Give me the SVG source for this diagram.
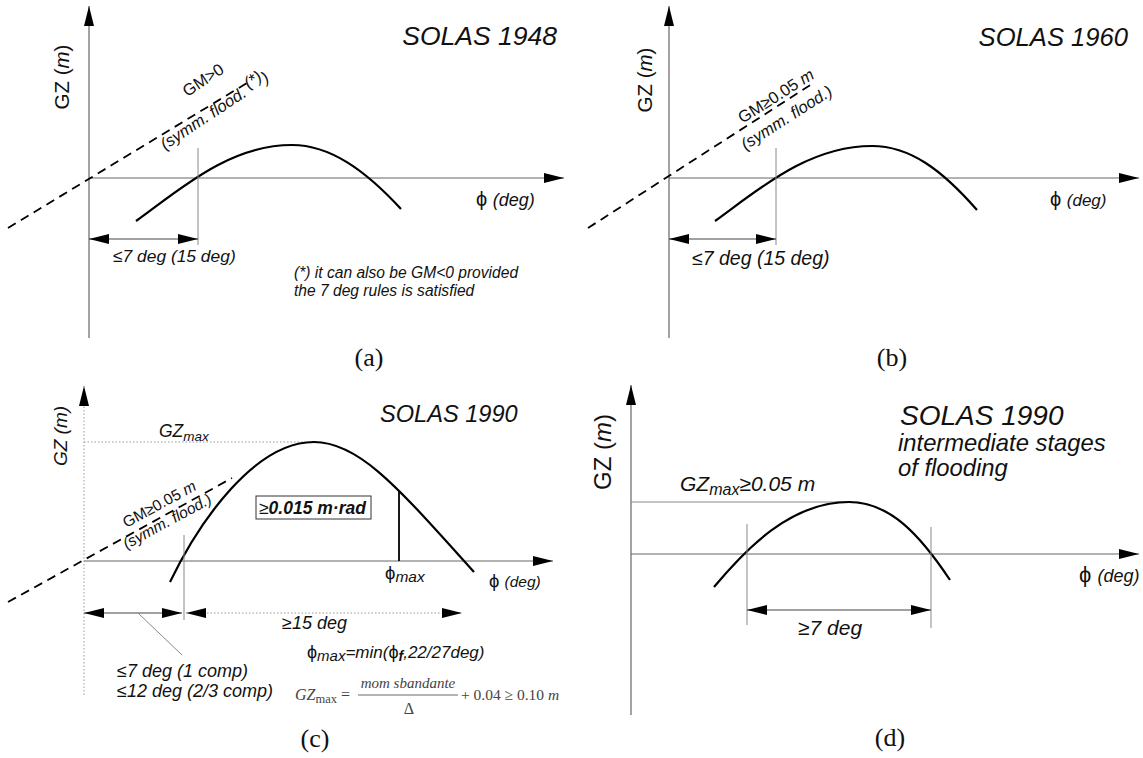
<svg xmlns="http://www.w3.org/2000/svg" width="1143" height="758" viewBox="0 0 1143 758">
<defs>
<marker id="ah" viewBox="0 0 20 10" markerWidth="20" markerHeight="10" refX="20" refY="5" orient="auto-start-reverse" markerUnits="userSpaceOnUse"><path d="M0,0L20,5L0,10z" fill="#000"/></marker>
</defs>
<style>
.ax{stroke:#666;stroke-width:1.2;fill:none;marker-end:url(#ah)}
.cv{stroke:#000;stroke-width:2.2;fill:none}
.th{stroke:#888;stroke-width:1;fill:none}
.ds{stroke:#000;stroke-width:1.8;stroke-dasharray:9 6;fill:none}
.dim{stroke:#444;stroke-width:1;fill:none;marker-start:url(#ah);marker-end:url(#ah)}
.dot{stroke:#999;stroke-width:1;stroke-dasharray:1.5 2;fill:none}
text{font-family:"Liberation Sans",Arial,sans-serif;fill:#111}
.it{font-style:italic}
.cap{font-family:"Liberation Serif","Times New Roman",serif;font-size:26px;text-anchor:middle}
.fm{font-family:"Liberation Serif","Times New Roman",serif;fill:#444}
</style>
<rect width="1143" height="758" fill="#fff"/>

<g id="panel-a">
<line class="ax" x1="89" y1="338" x2="89" y2="6"/>
<line class="ax" x1="89" y1="178" x2="564" y2="178"/>
<text x="557" y="45" text-anchor="end" class="it" font-size="26.5">SOLAS 1948</text>
<text transform="translate(69,77) rotate(-90)" text-anchor="middle" font-size="20.5">GZ (<tspan class="it">m</tspan>)</text>
<text x="476" y="206" font-size="20">ϕ <tspan class="it" font-size="18">(deg)</tspan></text>
<line class="ds" x1="8" y1="228" x2="252" y2="80"/>
<g transform="translate(166,152) rotate(-33.5)">
<text x="48" y="-34" font-size="16.5">GM&gt;0</text>
<text x="0" y="-2" font-size="16.5" class="it">(symm. flood. <tspan dy="-5">(*)</tspan><tspan dy="5">)</tspan></text>
</g>
<path class="cv" d="M136,221 C178,191 228,145 292,145 C330,145 365,170 401,209"/>
<line class="th" x1="198" y1="148" x2="198" y2="245"/>
<line class="dim" x1="89" y1="239" x2="198" y2="239"/>
<text x="113" y="262" class="it" font-size="17.4">≤7 deg (15 deg)</text>
<text x="294" y="278" class="it" font-size="15.6">(*) it can also be GM&lt;0 provided</text>
<text x="294" y="296" class="it" font-size="15.6">the 7 deg rules is satisfied</text>
<text x="369" y="366" class="cap">(a)</text>
</g>

<g id="panel-b">
<line class="ax" x1="669" y1="338" x2="669" y2="6"/>
<line class="ax" x1="669" y1="178" x2="1139" y2="178"/>
<text x="1128" y="46" text-anchor="end" class="it" font-size="25.6">SOLAS 1960</text>
<text transform="translate(652,80) rotate(-90)" text-anchor="middle" font-size="20.5">GZ (<tspan class="it">m</tspan>)</text>
<text x="1050" y="206" font-size="20">ϕ <tspan class="it" font-size="17">(deg)</tspan></text>
<line class="ds" x1="588" y1="228" x2="815" y2="82"/>
<g transform="translate(747,153) rotate(-32.5)">
<text x="12" y="-27" font-size="16.5">GM≥0.05 <tspan class="it">m</tspan></text>
<text x="0" y="-3" font-size="16.5" class="it">(symm. flood.)</text>
</g>
<path class="cv" d="M715,221 C757,191 807,146 872,146 C910,146 942,170 977,210"/>
<line class="th" x1="776" y1="148" x2="776" y2="245"/>
<line class="dim" x1="669" y1="239" x2="776" y2="239"/>
<text x="692" y="265" class="it" font-size="19.5">≤7 deg (15 deg)</text>
<text x="892" y="366" class="cap">(b)</text>
</g>

<g id="panel-c">
<line class="dot" x1="84" y1="695" x2="84" y2="386" marker-end="url(#ah)"/>
<line class="ax" x1="84" y1="561" x2="553" y2="561"/>
<text x="380" y="422" class="it" font-size="23.6">SOLAS 1990</text>
<text transform="translate(67,436) rotate(-90)" text-anchor="middle" font-size="19" class="it">GZ (m)</text>
<text x="159" y="437" class="it" font-size="17.5">GZ<tspan font-size="13.5" dy="4">max</tspan></text>
<line class="dot" x1="84" y1="442" x2="314" y2="442"/>
<path class="cv" d="M170,582 C200,520 255,442 314,442 C360,442 400,490 474,572"/>
<line x1="399" y1="491" x2="399" y2="561" stroke="#000" stroke-width="1.8"/>
<text x="385" y="579" font-size="18.5">ϕ<tspan class="it" font-size="15.5" dy="3">max</tspan></text>
<text x="489" y="587" font-size="18.5">ϕ <tspan class="it" font-size="15.5">(deg)</tspan></text>
<rect x="256" y="496" width="115" height="23" fill="none" stroke="#333" stroke-width="1"/>
<text x="259" y="514" font-size="17.5">≥<tspan class="it" font-weight="bold">0.015 m·rad</tspan></text>
<line class="ds" x1="8" y1="602" x2="232" y2="478"/>
<g transform="translate(128,552) rotate(-28.5)">
<text x="10" y="-22" font-size="15.5">GM≥0.05 <tspan class="it">m</tspan></text>
<text x="0" y="-3" font-size="15.5" class="it">(symm. flood.)</text>
</g>
<line class="th" x1="184" y1="535" x2="184" y2="620"/>
<line class="dim" x1="84" y1="613" x2="182" y2="613"/>
<line class="dot" x1="186" y1="613" x2="462" y2="613" marker-start="url(#ah)" marker-end="url(#ah)"/>
<line class="th" x1="138" y1="613" x2="182" y2="655"/>
<text x="282" y="629" class="it" font-size="18">≥15 deg</text>
<text x="307" y="658" font-size="18">ϕ<tspan class="it" font-size="15" dy="3">max</tspan><tspan class="it" font-size="17" dy="-3">=min(</tspan><tspan font-size="18">ϕ</tspan><tspan class="it" font-weight="bold" font-size="14" dy="3">f</tspan><tspan class="it" font-size="17" dy="-3">,22/27deg)</tspan></text>
<text x="117" y="677" class="it" font-size="18">≤7 deg (1 comp)</text>
<text x="117" y="697" class="it" font-size="18">≤12 deg (2/3 comp)</text>
<text x="295" y="700" class="fm" font-size="16"><tspan font-style="italic">GZ</tspan><tspan font-size="12.5" dy="3">max</tspan><tspan dy="-3"> =</tspan></text>
<line x1="358" y1="695" x2="458" y2="695" stroke="#444" stroke-width="0.8"/>
<text x="408" y="688" class="fm" font-size="15" text-anchor="middle" font-style="italic">mom sbandante</text>
<text x="409" y="714" class="fm" font-size="16" text-anchor="middle">Δ</text>
<text x="461" y="700" class="fm" font-size="15.5">+ 0.04 ≥ 0.10 <tspan font-style="italic">m</tspan></text>
<text x="315" y="747" class="cap">(c)</text>
</g>

<g id="panel-d">
<line class="ax" x1="631" y1="715" x2="631" y2="385"/>
<line class="ax" x1="631" y1="554" x2="1139" y2="554"/>
<text transform="translate(611,452) rotate(-90)" text-anchor="middle" font-size="24">GZ (<tspan class="it">m</tspan>)</text>
<text x="900" y="425" class="it" font-size="28">SOLAS 1990</text>
<text x="898" y="451" class="it" font-size="23.8">intermediate stages</text>
<text x="898" y="476" class="it" font-size="23.8">of flooding</text>
<text x="680" y="491" class="it" font-size="21">GZ<tspan font-size="16" dy="4">max</tspan><tspan dy="-4">≥0.05 m</tspan></text>
<line class="th" x1="631" y1="502" x2="850" y2="502"/>
<path class="cv" d="M714,587 C745,550 790,502 849,502 C890,502 920,535 950,580"/>
<line class="th" x1="747" y1="524" x2="747" y2="625"/>
<line class="th" x1="931" y1="527" x2="931" y2="628"/>
<line class="dim" x1="747" y1="610" x2="931" y2="610"/>
<text x="798" y="635" class="it" font-size="21">≥7 deg</text>
<text x="1079" y="582" font-size="22">ϕ <tspan class="it" font-size="18">(deg)</tspan></text>
<text x="890" y="746" class="cap">(d)</text>
</g>
</svg>
